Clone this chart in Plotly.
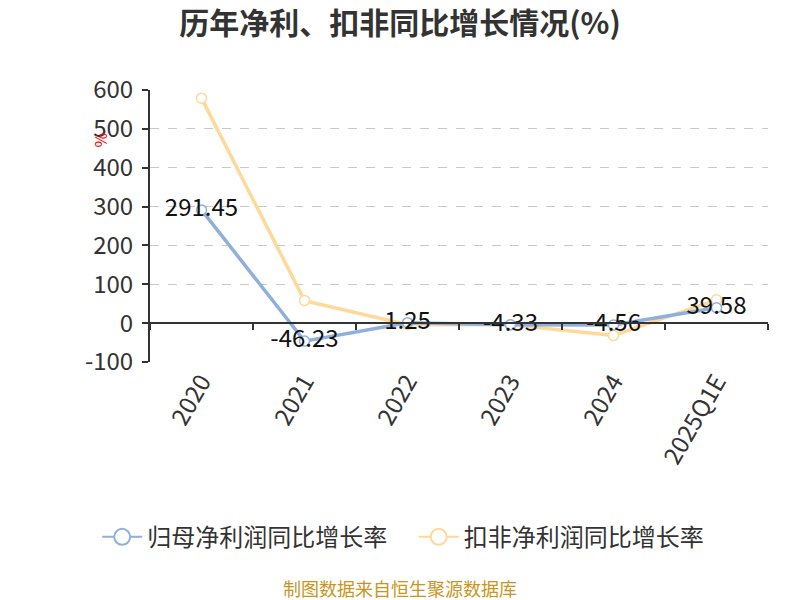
import plotly.graph_objects as go

categories = ["2020", "2021", "2022", "2023", "2024", "2025Q1E"]
net_profit_growth = [291.45, -46.23, 1.25, -4.33, -4.56, 39.58]
deducted_growth = [579, 58, -4, -4, -32, 60]
net_profit_labels = ["291.45", "-46.23", "1.25", "-4.33", "-4.56", "39.58"]
y_ticks = [-100, 0, 100, 200, 300, 400, 500, 600]
y_tick_labels = ["-100", "0", "100", "200", "300", "400", "500", "600"]
series_names = ["归母净利润同比增长率", "扣非净利润同比增长率"]

FONT = "Noto Sans CJK SC"
BLUE = "#8fafdc"
YELLOW = "#ffd99a"

fig = go.Figure()
# invisible trace to carry the zero-line tick axis
fig.add_trace(go.Scatter(x=categories, y=[0] * len(categories), xaxis="x2",
                         mode="lines", line=dict(width=0), showlegend=False, hoverinfo="skip"))
fig.add_trace(go.Scatter(
    x=categories, y=deducted_growth, name=series_names[1], showlegend=False,
    mode="lines+markers",
    line=dict(color=YELLOW, width=3.5),
    marker=dict(symbol="circle", size=10, color="white", line=dict(color=YELLOW, width=1.5)),
))
fig.add_trace(go.Scatter(
    x=categories, y=net_profit_growth, name=series_names[0], showlegend=False,
    mode="lines+markers+text", text=net_profit_labels, textposition="middle center",
    textfont=dict(size=24, color="#111", family=FONT),
    line=dict(color=BLUE, width=3.5),
    marker=dict(symbol="circle", size=10, color="white", line=dict(color=BLUE, width=1.5)),
))
# legend-only entries with larger symbols
legend_pad = ["\u00a0\u00a0\u00a0\u00a0", ""]
for nm, col, pad in zip(series_names, [BLUE, YELLOW], legend_pad):
    fig.add_trace(go.Scatter(
        x=[None], y=[None], name=nm + pad, mode="lines+markers",
        line=dict(color=col, width=2),
        marker=dict(symbol="circle", size=22, color="white", line=dict(color=col, width=2)),
    ))

fig.update_layout(
    width=792, height=592,
    paper_bgcolor="white", plot_bgcolor="white",
    margin=dict(l=142, r=32, t=82, b=238, autoexpand=False),
    font=dict(family=FONT, color="#333"),
    title=dict(text="<b>历年净利、扣非同比增长情况(%)</b>", x=0.495, xanchor="center",
               xref="container", y=0.974, yanchor="middle",
               font=dict(size=30, color="#333", family=FONT)),
    xaxis=dict(type="category", categoryorder="array", categoryarray=categories,
               tickangle=-60, tickfont=dict(size=24, color="#333"),
               showline=False, showgrid=False, ticks="", range=[-0.5, 5.5]),
    xaxis2=dict(type="category", categoryorder="array", categoryarray=categories,
                overlaying="x", anchor="free", position=1 / 7, matches="x",
                showticklabels=False, showline=True, linecolor="#333", linewidth=2,
                ticks="outside", ticklen=6, tickwidth=2, tickcolor="#333",
                tickson="boundaries", showgrid=False, range=[-0.5, 5.5]),
    yaxis=dict(range=[-100, 600], tickvals=y_ticks, ticktext=y_tick_labels,
               tickfont=dict(size=24, color="#333"), ticklabelstandoff=4,
               showline=True, linecolor="#333", linewidth=2, ticks="outside", ticklen=6,
               tickcolor="#333", tickwidth=2,
               showgrid=True, gridcolor="#c8c8c8", griddash="dash", gridwidth=1.2,
               zeroline=False),
    legend=dict(orientation="h", x=0.499, xanchor="center", xref="container",
                yref="container", y=0.106, yanchor="middle", itemwidth=40,
                font=dict(size=24, color="#333", family=FONT)),
    showlegend=True,
)
fig.add_annotation(text="%", xref="paper", yref="paper", x=-0.102, y=0.853,
                   showarrow=False, textangle=-90, font=dict(size=16, color="red", family=FONT))
fig.add_annotation(text="制图数据来自恒生聚源数据库", xref="paper", yref="paper",
                   x=0.4045, y=-0.83, xanchor="center", yanchor="middle", showarrow=False,
                   font=dict(size=18, color="#c8961e", family=FONT))

fig.write_html("out.html")
